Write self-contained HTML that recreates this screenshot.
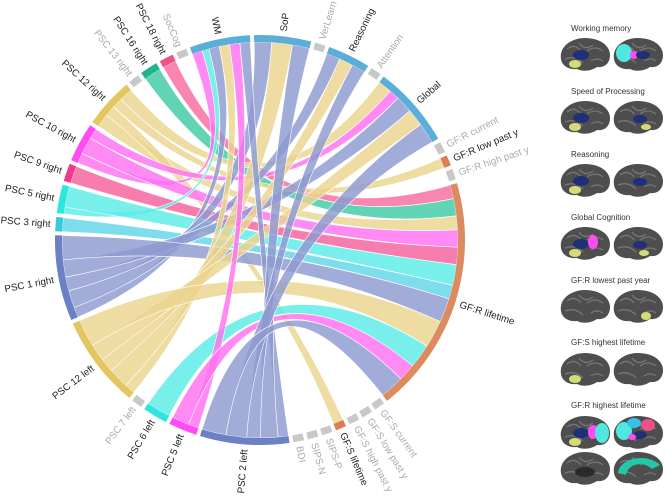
<!DOCTYPE html>
<html><head><meta charset="utf-8">
<style>
body{margin:0;background:#fff;width:666px;height:497px;overflow:hidden;font-family:"Liberation Sans",sans-serif;}
svg{position:absolute;left:0;top:0}
</style></head>
<body>
<svg id="chart" width="666" height="497" viewBox="0 0 666 497">
<g id="links"></g>
<g id="arcs"></g>
<g id="labels"></g>
<g id="brains"></g>
</svg>
<script>
// segment names (clockwise from top)
const segNames = ["WM","SoP","VerLearn","Reasoning","Attention","Global","GF:R current","GF:R low past y","GF:R high past y","GF:R lifetime","GF:S current","GF:S low past y","GF:S high past y","GF:S lifetime","SIPS-P","SIPS-N","BDI","PSC 2 left","PSC 5 left","PSC 6 left","PSC 7 left","PSC 12 left","PSC 1 right","PSC 3 right","PSC 5 right","PSC 9 right","PSC 10 right","PSC 12 right","PSC 13 right","PSC 16 right","PSC 18 right","SocCog"];
const segColors = ["#5aaed8","#5aaed8","#c8c8c8","#5aaed8","#c8c8c8","#5aaed8","#c8c8c8","#dc7e55","#c8c8c8","#dc8a60","#c8c8c8","#c8c8c8","#c8c8c8","#dc7e55","#c8c8c8","#c8c8c8","#c8c8c8","#6c80c6","#ff4cf2","#2ee6de","#c8c8c8","#e3c660","#6c80c6","#3ac8dc","#2ee6de","#f23a8c","#ff4cf2","#e3c660","#c8c8c8","#1fb58f","#f0508a","#c8c8c8"];
const grayLabel = [0,0,1,0,1,0,1,0,1,0,1,1,1,0,1,1,1,0,0,0,1,0,0,0,0,0,0,0,1,0,0,1];
const linkSources = ["PSC 18 right","PSC 16 right","PSC 12 right","PSC 12 right","PSC 12 right","PSC 12 right","PSC 10 right","PSC 10 right","PSC 10 right","PSC 9 right","PSC 5 right","PSC 5 right","PSC 3 right","PSC 1 right","PSC 1 right","PSC 1 right","PSC 1 right","PSC 1 right","PSC 12 left","PSC 12 left","PSC 12 left","PSC 12 left","PSC 12 left","PSC 6 left","PSC 5 left","PSC 5 left","PSC 2 left","PSC 2 left","PSC 2 left","PSC 2 left","PSC 2 left"];
const linkTargets = ["GF:R lifetime","GF:R lifetime","GF:R lifetime","GF:S lifetime","GF:R low past y","Global","WM","GF:R lifetime","Global","GF:R lifetime","WM","GF:R lifetime","GF:R lifetime","WM","SoP","Reasoning","Global","GF:R lifetime","WM","SoP","Reasoning","Global","GF:R lifetime","GF:R lifetime","WM","GF:R lifetime","WM","SoP","Reasoning","Global","GF:R lifetime"];
const linkValues = [4,5,4,3,3,4,3,5,3,5,2,6,4,3,5,4,5,7,3,6,4,5,8,7,3,5,3,5,4,6,7];
const linkColors = {"PSC 18 right":"#f86aa0","PSC 16 right":"#3fcaa6","PSC 12 right":"#ead48e","PSC 10 right":"#ff70f2","PSC 9 right":"#f5609e","PSC 5 right":"#5aece6","PSC 3 right":"#62d6e8","PSC 1 right":"#8e9ad0","PSC 12 left":"#ead48e","PSC 6 left":"#5aece6","PSC 5 left":"#ff70f2","PSC 2 left":"#8e9ad0"};

const NS="http://www.w3.org/2000/svg";
const cx=260, cy=240, R1=198, R2=205;
const startAngle=-20, gap=1.1, minSpan=3;
const sums = segNames.map(()=>0);
linkSources.forEach((s,i)=>{sums[segNames.indexOf(s)]+=linkValues[i];sums[segNames.indexOf(linkTargets[i])]+=linkValues[i];});
const spans = sums.map(v=>Math.max(v,minSpan));
const total = spans.reduce((a,b)=>a+b,0);
const k = (360-gap*segNames.length)/total;
const segStart=[],segEnd=[];
let a=startAngle;
spans.forEach((s,i)=>{segStart.push(a);segEnd.push(a+s*k);a+=s*k+gap;});
function pt(deg,r){const t=deg*Math.PI/180;return [cx+r*Math.sin(t),cy-r*Math.cos(t)];}
function arcPath(a0,a1,r0,r1){const p0=pt(a0,r1),p1=pt(a1,r1),p2=pt(a1,r0),p3=pt(a0,r0);const l=(a1-a0)>180?1:0;
return `M${p0}A${r1},${r1} 0 ${l} 1 ${p1}L${p2}A${r0},${r0} 0 ${l} 0 ${p3}Z`;}
const arcsG=document.getElementById('arcs');
segNames.forEach((n,i)=>{const p=document.createElementNS(NS,'path');p.setAttribute('d',arcPath(segStart[i],segEnd[i],R1,R2));p.setAttribute('fill',segColors[i]);


arcsG.appendChild(p);});
const cursor=segStart.slice();
const linksG=document.getElementById('links');
linkSources.forEach((s,i)=>{const si=segNames.indexOf(s),ti=segNames.indexOf(linkTargets[i]);const w=linkValues[i]*k;
const s0=cursor[si],s1=s0+w;cursor[si]=s1;const t0=cursor[ti],t1=t0+w;cursor[ti]=t1;
const A=pt(s0,R1),B=pt(s1,R1),C=pt(t0,R1),D=pt(t1,R1);
const d=`M${A}A${R1},${R1} 0 0 1 ${B}Q${cx},${cy} ${C}A${R1},${R1} 0 0 1 ${D}Q${cx},${cy} ${A}Z`;
const p=document.createElementNS(NS,'path');p.setAttribute('d',d);p.setAttribute('fill',linkColors[s]);p.setAttribute('fill-opacity','0.82');p.setAttribute('stroke','#fff');p.setAttribute('stroke-width','0.6');


linksG.appendChild(p);});
const labG=document.getElementById('labels');
segNames.forEach((n,i)=>{const m=(segStart[i]+segEnd[i])/2;const mm=((m%360)+360)%360;
const t=document.createElementNS(NS,'text');t.textContent=n;t.setAttribute('font-size','9.8');t.setAttribute('fill',grayLabel[i]?'#aaa':'#222');
if(mm>180){t.setAttribute('transform',`translate(${cx},${cy}) rotate(${mm-90}) translate(${R2+5},0) rotate(180)`);t.setAttribute('text-anchor','end');}
else{t.setAttribute('transform',`translate(${cx},${cy}) rotate(${mm-90}) translate(${R2+5},0)`);}
t.setAttribute('dy','0.35em');


labG.appendChild(t);});
const brainTitles=["Working memory","Speed of Processing","Reasoning","Global Cognition","GF:R lowest past year","GF:S highest lifetime","GF:R highest lifetime"];
const titleY=[31,94,157,220,283,345,408];
const bG=document.getElementById('brains');
function brain(x,y,flip,blobs){const g=document.createElementNS(NS,'g');g.setAttribute('transform',`translate(${x},${y}) scale(${flip?-1:1},1)`);


g.innerHTML=`<path d="M-24,4 C-26,-8 -14,-17 0,-17 C14,-17 25,-10 25,0 C25,8 20,13 12,12 C6,16 -2,17 -8,14 C-16,15 -23,11 -24,4Z" fill="#4e4e4e"/>
<path d="M-18,-6 q8,-6 14,2 M-6,-12 q6,8 14,2 M2,-4 q8,-6 16,0 M-20,4 q10,-4 18,4 M6,6 q6,-4 12,0" stroke="#777" stroke-width="1.3" fill="none"/>`+blobs;
bG.appendChild(g);}
const blue='<ellipse cx="-4" cy="0" rx="8" ry="5" fill="#1f2f78"/>';
const yel='<ellipse cx="-10" cy="9" rx="6" ry="4" fill="#d4dc78"/>';
brainTitles.forEach((s,i)=>{const t=document.createElementNS(NS,'text');t.textContent=s;t.setAttribute('x',571);t.setAttribute('y',titleY[i]);t.setAttribute('font-size','8');t.setAttribute('fill','#333');


bG.appendChild(t);});
const by=[55,118,181,244,307,370,433];
brain(585,by[0],false,blue+yel);brain(638,by[0],false,'<ellipse cx="-14" cy="-2" rx="8" ry="9" fill="#4ee8e0"/><ellipse cx="-4" cy="0" rx="4" ry="4" fill="#ff4cf2"/><ellipse cx="5" cy="0" rx="7" ry="4" fill="#1f2f78"/>');
brain(585,by[1],false,blue+yel);brain(638,by[1],false,'<ellipse cx="2" cy="1" rx="7" ry="4" fill="#1f2f78"/><ellipse cx="8" cy="9" rx="5" ry="3" fill="#d4dc78"/>');
brain(585,by[2],false,blue+yel);brain(638,by[2],false,'<ellipse cx="2" cy="1" rx="7" ry="4" fill="#1f2f78"/>');
brain(585,by[3],false,blue+yel+'<ellipse cx="8" cy="-2" rx="5" ry="7" fill="#ff4cf2"/>');brain(638,by[3],false,'<ellipse cx="2" cy="1" rx="7" ry="4" fill="#1f2f78"/><ellipse cx="6" cy="9" rx="5" ry="3" fill="#d4dc78"/>');
brain(585,by[4],false,'');brain(638,by[4],false,'<ellipse cx="8" cy="9" rx="5" ry="4" fill="#d4dc78"/>');
brain(585,by[5],false,yel);brain(638,by[5],false,'');
brain(585,by[6],false,blue+yel+'<ellipse cx="8" cy="-1" rx="5" ry="7" fill="#ff4cf2"/><ellipse cx="17" cy="0" rx="7" ry="10" fill="#4ee8e0"/>');
brain(638,by[6],false,'<ellipse cx="-14" cy="-2" rx="8" ry="9" fill="#4ee8e0"/><ellipse cx="-4" cy="-10" rx="7" ry="5" fill="#38c0e8"/><ellipse cx="10" cy="-8" rx="7" ry="6" fill="#f0508a"/><ellipse cx="2" cy="2" rx="7" ry="4" fill="#1f2f78"/><ellipse cx="-6" cy="4" rx="4" ry="3" fill="#ff4cf2"/>');
brain(585,469,false,'<ellipse cx="0" cy="3" rx="10" ry="5" fill="#2a2a2a"/>');
brain(638,469,false,'<path d="M-20,4 C-18,-12 10,-16 22,-4 L14,0 C6,-8 -10,-6 -12,6Z" fill="#22c8a8"/>');
</script>
</body></html>
